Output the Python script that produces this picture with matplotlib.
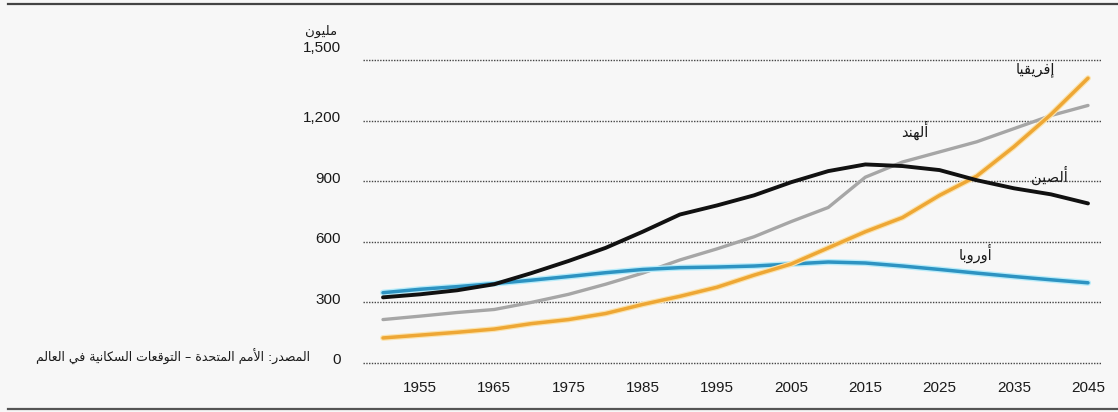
import numpy as np
import matplotlib
matplotlib.use("Agg")
import matplotlib.pyplot as plt
from matplotlib.lines import Line2D
import matplotlib.transforms as mtransforms

# ===== Data (million people) =====
years = [1950, 1955, 1960, 1965, 1970, 1975, 1980, 1985, 1990, 1995,
         2000, 2005, 2010, 2015, 2020, 2025, 2030, 2035, 2040, 2045]
china = [325, 340, 360, 390, 445, 505, 570, 650, 735, 780,
         830, 895, 950, 983, 975, 955, 905, 865, 835, 790]
india = [215, 232, 250, 265, 300, 340, 390, 445, 510, 565,
         625, 700, 770, 920, 995, 1045, 1095, 1160, 1225, 1275]
europe = [348, 365, 378, 393, 410, 428, 447, 463, 472, 475,
          480, 490, 500, 495, 480, 463, 445, 428, 412, 397]
africa = [124, 138, 152, 168, 195, 215, 245, 290, 330, 375,
          435, 490, 570, 650, 720, 830, 925, 1070, 1230, 1410]

x_ticks = [1955, 1965, 1975, 1985, 1995, 2005, 2015, 2025, 2035, 2045]
y_ticks = [0, 300, 600, 900, 1200, 1500]
y_ticklabels = ["0", "300", "600", "900", "1,200", "1,500"]

lbl_africa = "إفريقيا"
lbl_india = "ألهند"
lbl_china = "ألصين"
lbl_europe = "أوروبا"
lbl_unit = "مليون"
lbl_source = "المصدر: الأمم المتحدة – التوقعات السكانية في العالم"

# ===== Arabic shaping (no bidi lib available) =====
_dual = {0x0626: 0xFE89, 0x0628: 0xFE8F, 0x062A: 0xFE95, 0x062B: 0xFE99,
         0x062C: 0xFE9D, 0x062D: 0xFEA1, 0x062E: 0xFEA5, 0x0633: 0xFEB1,
         0x0634: 0xFEB5, 0x0635: 0xFEB9, 0x0636: 0xFEBD, 0x0637: 0xFEC1,
         0x0638: 0xFEC5, 0x0639: 0xFEC9, 0x063A: 0xFECD, 0x0641: 0xFED1,
         0x0642: 0xFED5, 0x0643: 0xFED9, 0x0644: 0xFEDD, 0x0645: 0xFEE1,
         0x0646: 0xFEE5, 0x0647: 0xFEE9, 0x064A: 0xFEF1}
_right = {0x0622: 0xFE81, 0x0623: 0xFE83, 0x0624: 0xFE85, 0x0625: 0xFE87,
          0x0627: 0xFE8D, 0x0629: 0xFE93, 0x062F: 0xFEA9, 0x0630: 0xFEAB,
          0x0631: 0xFEAD, 0x0632: 0xFEAF, 0x0648: 0xFEED, 0x0649: 0xFEEF}
FORMS = {chr(k): tuple(chr(v + i) for i in range(4)) for k, v in _dual.items()}
FORMS.update({chr(k): (chr(v), chr(v + 1)) for k, v in _right.items()})
LAMALEF = {"\u0622": ("\uFEF5", "\uFEF6"), "\u0623": ("\uFEF7", "\uFEF8"),
           "\u0625": ("\uFEF9", "\uFEFA"), "\u0627": ("\uFEFB", "\uFEFC")}


def shape_ar(text):
    out = []
    i, n = 0, len(text)
    while i < n:
        c = text[i]
        if c not in FORMS:
            out.append(c)
            i += 1
            continue
        prev = text[i - 1] if i > 0 else ""
        join_prev = len(FORMS.get(prev, ())) == 4
        if c == "\u0644" and i + 1 < n and text[i + 1] in LAMALEF:
            iso, fin = LAMALEF[text[i + 1]]
            out.append(fin if join_prev else iso)
            i += 2
            continue
        nxt = text[i + 1] if i + 1 < n else ""
        f = FORMS[c]
        join_next = len(f) == 4 and nxt in FORMS
        if join_prev and join_next:
            g = f[3]
        elif join_prev:
            g = f[1]
        elif join_next:
            g = f[2]
        else:
            g = f[0]
        out.append(g)
        i += 1
    return "".join(reversed(out))


# ===== Plot =====
W, H = 1118, 412
bg = "#f7f7f7"
fig = plt.figure(figsize=(W / 100, H / 100), dpi=100, facecolor=bg)

# axes placed in pixel terms
px_per_unit = 0.202
x0_px, x1_px = 363, 1102
yt_px, yb_px = 50, 373
ax = fig.add_axes([x0_px / W, 1 - yb_px / H, (x1_px - x0_px) / W, (yb_px - yt_px) / H])
ax.set_facecolor(bg)
px_per_year = (1088 - 383) / 95
ax.set_xlim(1950 - (383 - x0_px) / px_per_year, 2045 + (x1_px - 1088) / px_per_year)
ax.set_ylim(-(yb_px - 363) / px_per_unit, 1500 + (60 - yt_px) / px_per_unit)

for v in y_ticks:
    ax.axhline(v, color="#444444", lw=1.0, ls=(0, (1, 1)), zorder=1)

ax.plot(years, india, color="#a6a6a6", lw=2.4, solid_capstyle="round", zorder=3)
ax.plot(years, europe, color="#b8ecfa", lw=4.4, solid_capstyle="round", zorder=3)
ax.plot(years, europe, color="#2d93c2", lw=2.5, solid_capstyle="round", zorder=3)
ax.plot(years, africa, color="#fbe3ad", lw=4.2, solid_capstyle="round", zorder=4)
ax.plot(years, africa, color="#eea735", lw=2.5, solid_capstyle="round", zorder=4)
ax.plot(years, china, color="#111111", lw=2.8, solid_capstyle="round", zorder=5)

for s in ax.spines.values():
    s.set_visible(False)
ax.tick_params(length=0)
ax.set_xticks(x_ticks)
ax.set_xticklabels([str(y) for y in x_ticks], fontsize=11, color="#1a1a1a",
                   family=["Liberation Sans", "DejaVu Sans"])
ax.tick_params(axis="x", pad=6)
ax.set_yticks(y_ticks)
ax.set_yticklabels(y_ticklabels, fontsize=11, color="#1a1a1a",
                   family=["Liberation Sans", "DejaVu Sans"])
ax.tick_params(axis="y", pad=16)
for lab in ax.get_yticklabels():
    dy = 14 if lab.get_text() == "1,500" else 4
    lab.set_transform(lab.get_transform() +
                      mtransforms.ScaledTranslation(0, dy / 100, fig.dpi_scale_trans))

ar_font = ["DejaVu Sans"]
ax.text(2037.9, 1453, shape_ar(lbl_africa), fontsize=10.5, ha="center", va="center",
        family=ar_font, color="#1a1a1a")
ax.text(2021.7, 1154, shape_ar(lbl_india), fontsize=10.5, ha="center", va="center",
        family=ar_font, color="#1a1a1a")
ax.text(2039.8, 930, shape_ar(lbl_china), fontsize=10.5, ha="center", va="center",
        family=ar_font, color="#1a1a1a")
ax.text(2029.8, 542, shape_ar(lbl_europe), fontsize=10.5, ha="center", va="center",
        family=ar_font, color="#1a1a1a")

fig.text(321 / W, 1 - 31 / H, shape_ar(lbl_unit), fontsize=9.5, ha="center", va="center",
         family=ar_font, color="#1a1a1a")
fig.text(310 / W, 1 - 357 / H, shape_ar(lbl_source), fontsize=9, ha="right", va="center",
         family=ar_font, color="#1a1a1a")

# frame lines top and bottom
fig.add_artist(Line2D([8 / W, 1], [1 - 4 / H, 1 - 4 / H], color="#444444", lw=1.6))
fig.add_artist(Line2D([8 / W, 1], [1 - 409 / H, 1 - 409 / H], color="#555555", lw=1.6))

fig.savefig("out.png", dpi=100, facecolor=bg)
